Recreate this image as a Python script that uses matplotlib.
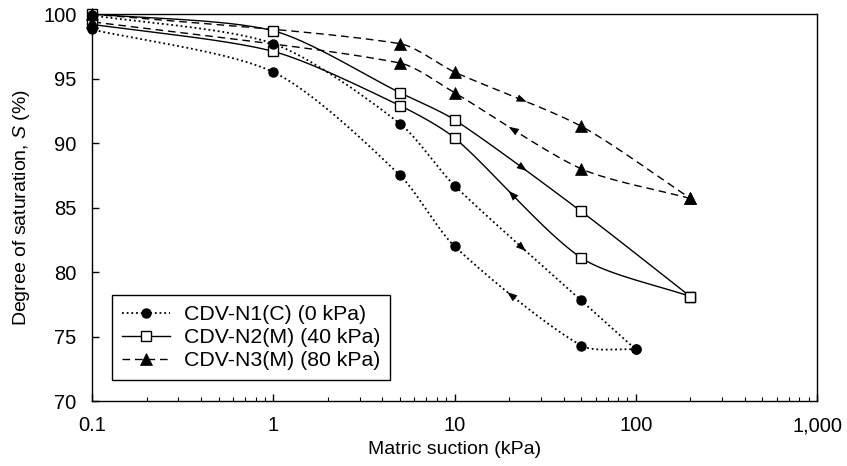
import numpy as np
import matplotlib
matplotlib.use('Agg')
import matplotlib.pyplot as plt
from matplotlib.lines import Line2D

plt.rcParams['font.family'] = ['Liberation Sans', 'DejaVu Sans']
plt.rcParams['mathtext.fontset'] = 'custom'
plt.rcParams['mathtext.rm'] = 'Liberation Sans'
plt.rcParams['mathtext.it'] = 'Liberation Sans:italic'

# ---------------- data ----------------
n1_dry_suction = [0.1, 1, 5, 10, 50, 100]
n1_dry_sat = [99.9, 97.7, 91.5, 86.7, 77.8, 74.0]
n1_wet_suction = [100, 50, 10, 5, 1, 0.1]
n1_wet_sat = [74.0, 74.3, 82.0, 87.5, 95.5, 98.8]

n2_dry_suction = [0.1, 1, 5, 10, 50, 200]
n2_dry_sat = [100.0, 98.7, 93.9, 91.8, 84.7, 78.1]
n2_wet_suction = [200, 50, 10, 5, 1, 0.1]
n2_wet_sat = [78.1, 81.1, 90.4, 92.9, 97.1, 99.2]

n3_dry_suction = [0.1, 5, 10, 50, 200]
n3_dry_sat = [100.0, 97.7, 95.5, 91.3, 85.7]
n3_wet_suction = [200, 50, 10, 5, 0.1]
n3_wet_sat = [85.7, 88.0, 93.9, 96.2, 99.4]

series_labels = ['CDV-N1(C) (0 kPa)', 'CDV-N2(M) (40 kPa)', 'CDV-N3(M) (80 kPa)']

x_ticks = [0.1, 1, 10, 100, 1000]
x_tick_labels = ['0.1', '1', '10', '100', '1,000']
y_ticks = [70, 75, 80, 85, 90, 95, 100]

# ---------------- figure ----------------
W, H = 847, 466
fig = plt.figure(figsize=(W / 100, H / 100), dpi=100)
fig.subplots_adjust(left=92 / W, right=817 / W, bottom=1 - 401 / H, top=1 - 14 / H)
ax = fig.add_subplot(111)
ax.set_xscale('log')
ax.set_xlim(0.1, 1000)
ax.set_ylim(70, 100)

K = 0.26  # smoothing strength of the connecting curves


def _bezier_segments(xs, ys):
    P = ax.transData.transform(np.column_stack([xs, ys]))
    n = len(P)
    D = []
    for i in range(n):
        v = P[min(i + 1, n - 1)] - P[max(i - 1, 0)]
        D.append(v / max(np.hypot(*v), 1e-9))
    segs = []
    for i in range(n - 1):
        L = np.hypot(*(P[i + 1] - P[i]))
        segs.append((P[i], P[i] + D[i] * K * L, P[i + 1] - D[i + 1] * K * L, P[i + 1]))
    return segs


def _bez(seg, t):
    t = np.asarray(t)[:, None]
    p0, c1, c2, p1 = seg
    return ((1 - t) ** 3 * p0 + 3 * (1 - t) ** 2 * t * c1
            + 3 * (1 - t) * t ** 2 * c2 + t ** 3 * p1)


def smooth(xs, ys, n=50):
    segs = _bezier_segments(xs, ys)
    tt = np.linspace(0, 1, n, endpoint=False)
    pts = [_bez(s, tt) for s in segs] + [segs[-1][3][None, :]]
    return ax.transData.inverted().transform(np.vstack(pts))


def add_arrow(xs, ys):
    i = None
    for k in range(len(xs) - 1):
        if {xs[k], xs[k + 1]} == {10, 50}:
            i = k
    seg = _bezier_segments(xs, ys)[i]
    a, b = ax.transData.inverted().transform(_bez(seg, [0.45, 0.56]))
    ax.annotate('', xy=(b[0], b[1]), xytext=(a[0], a[1]),
                arrowprops=dict(arrowstyle='-|>,head_length=0.45,head_width=0.17',
                                mutation_scale=16, color='black', lw=0,
                                shrinkA=0, shrinkB=0), zorder=5)


dotted = (0, (1, 1.6))
dashed = (0, (5.5, 3.5))

styles = [
    dict(ls=dotted, lw=1.3, marker='o', ms=6.5, mfc='black', mec='black', mew=1, zm=4),
    dict(ls='-', lw=1.0, marker='s', ms=6.5, mfc='white', mec='black', mew=1, zm=3),
    dict(ls=dashed, lw=1.0, marker='^', ms=8, mfc='black', mec='black', mew=0.5, zm=4),
]

data = [
    [(n1_dry_suction, n1_dry_sat), (n1_wet_suction, n1_wet_sat)],
    [(n2_dry_suction, n2_dry_sat), (n2_wet_suction, n2_wet_sat)],
    [(n3_dry_suction, n3_dry_sat), (n3_wet_suction, n3_wet_sat)],
]

handles = []
for st, branches, lab in zip(styles, data, series_labels):
    for xs, ys in branches:
        c = smooth(xs, ys)
        ax.plot(c[:, 0], c[:, 1], color='black', linestyle=st['ls'], lw=st['lw'],
                zorder=2, solid_capstyle='butt')
        ax.plot(xs, ys, linestyle='none', marker=st['marker'], ms=st['ms'],
                mfc=st['mfc'], mec=st['mec'], mew=st['mew'], zorder=st['zm'],
                clip_on=False)
        add_arrow(xs, ys)
    handles.append(Line2D([], [], color='black', linestyle=st['ls'], lw=st['lw'],
                          marker=st['marker'], ms=st['ms'], mfc=st['mfc'],
                          mec=st['mec'], mew=st['mew'], label=lab))

# ---------------- axes styling ----------------
ax.set_xticks(x_ticks)
ax.set_xticklabels(x_tick_labels)
ax.set_yticks(y_ticks)
ax.tick_params(which='major', direction='in', length=5, width=1, labelsize=14.5,
               top=False, right=False, colors='black')
ax.tick_params(axis='x', which='major', pad=11)
ax.tick_params(axis='y', which='major', pad=11)
ax.tick_params(axis='x', which='minor', direction='in', length=3, width=0.8, top=False)
ax.tick_params(axis='y', which='minor', left=False, right=False)
for sp in ax.spines.values():
    sp.set_linewidth(1.0)
    sp.set_color('black')

ax.set_xlabel('Matric suction (kPa)', fontsize=14, labelpad=4)
ax.set_ylabel('Degree of saturation, $S$ (%)', fontsize=14, labelpad=8)

leg = ax.legend(handles=handles, loc='lower left',
                bbox_to_anchor=(20 / 725, 21 / 387), borderaxespad=0,
                fontsize=15.3, frameon=True, fancybox=False, framealpha=1,
                edgecolor='black', handlelength=2.3, handletextpad=0.65,
                labelspacing=0.2, borderpad=0.45, numpoints=1)
leg.get_frame().set_linewidth(1.0)

fig.savefig('out.png', dpi=100)
